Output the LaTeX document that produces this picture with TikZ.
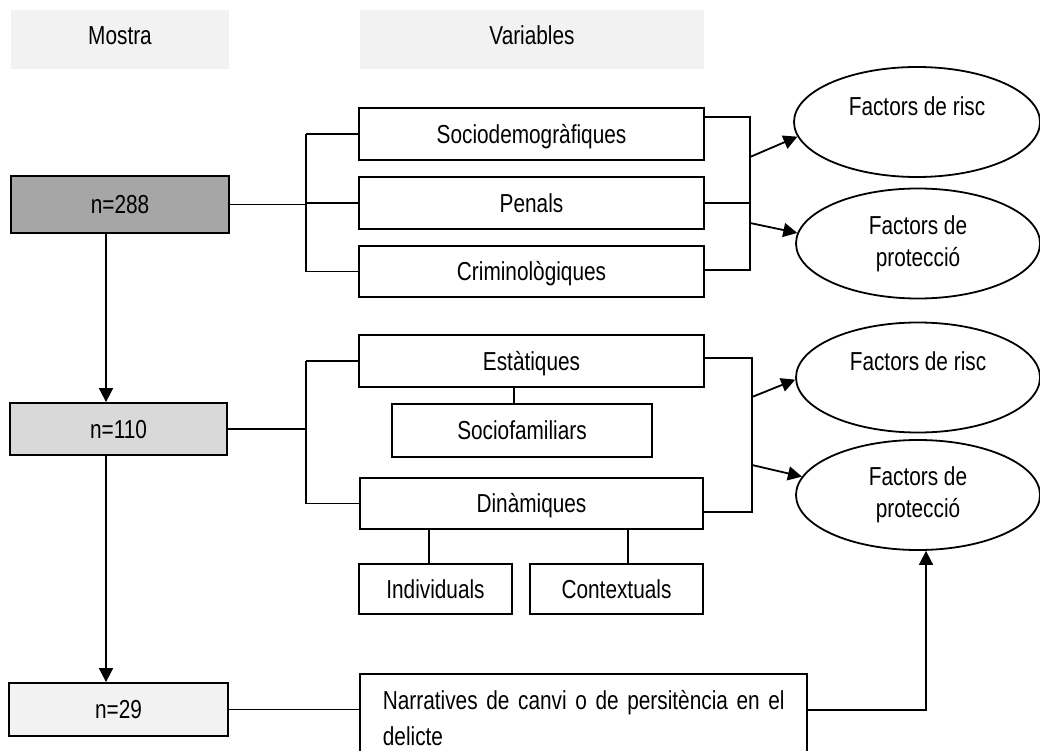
\documentclass[tikz,border=0pt]{standalone}
\usepackage{fontspec}
\setmainfont{Liberation Sans}[FakeStretch=0.8]
\usetikzlibrary{arrows.meta,shapes.geometric}
\definecolor{hdr}{HTML}{F2F2F2}
\definecolor{darkfill}{HTML}{A6A6A6}
\definecolor{midfill}{HTML}{D9D9D9}
\definecolor{lightfill}{HTML}{F2F2F2}
\begin{document}
\begin{tikzpicture}[x=1pt,y=-1pt,
  line width=1.8pt,
  every node/.style={font=\fontsize{26}{32}\selectfont, inner sep=0pt},
  hdrbox/.style={fill=hdr, minimum height=59pt, text height=18.6pt, text depth=8pt},
  box/.style={draw, fill=white, text height=18.6pt, text depth=0pt},
  oval/.style={draw, ellipse, fill=white, minimum width=244pt, minimum height=110pt, align=center},
  arr/.style={-{Triangle[length=14pt,width=14pt]}}
]
\fill[white] (0,0) rectangle (1040,751);
\useasboundingbox (0,0) rectangle (1040,751);

% headers
\node[hdrbox, minimum width=218pt] (hm) at (120,39.5) {Mostra};
\node[hdrbox, minimum width=344pt] (hv) at (532,39.5) {Variables};

% group 1
\node[box, fill=darkfill, minimum width=218pt, minimum height=57pt] (n288) at (120,204.5) {n=288};
\node[box, minimum width=345pt, minimum height=52pt] (socio) at (531.5,134) {Sociodemogràfiques};
\node[box, minimum width=345pt, minimum height=52pt] (pen) at (531.5,203) {Penals};
\node[box, minimum width=345pt, minimum height=51pt] (crim) at (531.5,271.5) {Criminològiques};
\node[oval, minimum width=246pt] (e1) at (917,122) {Factors de risc\\\mbox{}};
\node[oval] (e2) at (918,243.5) {Factors de\\protecció};

% group 2
\node[box, fill=midfill, minimum width=217pt, minimum height=52pt] (n110) at (118.5,429) {n=110};
\node[box, minimum width=345pt, minimum height=52pt] (estat) at (531.5,361) {Estàtiques};
\node[box, minimum width=260pt, minimum height=53pt] (sfam) at (522,430.5) {Sociofamiliars};
\node[box, minimum width=343pt, minimum height=51pt] (dinam) at (531.5,503.5) {Dinàmiques};
\node[box, minimum width=153pt, minimum height=50pt] (indiv) at (435.5,589) {Individuals};
\node[box, minimum width=173pt, minimum height=50pt] (contx) at (616.5,589) {Contextuals};
\node[oval] (e3) at (918,377.5) {Factors de risc\\\mbox{}};
\node[oval] (e4) at (918,495) {Factors de\\protecció};

% group 3
\node[box, fill=lightfill, minimum width=219pt, minimum height=53pt] (n29) at (118.5,709.5) {n=29};
\node[draw, fill=white, anchor=north west, text width=401pt, inner xsep=23pt, inner ysep=16pt,
  align=left, font=\fontsize{26}{36}\selectfont] (narr) at (359,673)
  {\mbox{Narratives de canvi o de persitència en el}\\delicte};

% coordinates
\coordinate (vx) at (106,0);
\coordinate (l1) at (306,0);
\coordinate (r1t) at (750,117);
\coordinate (r1b) at (750,270);
\coordinate (a1) at (750,157);
\coordinate (a2) at (750,223);
\coordinate (s1) at (514,0);
\coordinate (d1) at (429,0);
\coordinate (d2) at (628,0);
\coordinate (r2t) at (752,358);
\coordinate (r2b) at (752,512);
\coordinate (a3) at (752,397);
\coordinate (a4) at (752,465);
\coordinate (c5) at (926,710);

% vertical flow
\draw[arr] (vx |- n288.south) -- (vx |- n110.north);
\draw[arr] (vx |- n110.south) -- (vx |- n29.north);

% group 1 connectors
\draw (n288.east) -- (n288.east -| l1);
\draw (l1 |- socio.west) -- (l1 |- crim.west);
\draw (l1 |- socio.west) -- (socio.west);
\draw (l1 |- pen.west) -- (pen.west);
\draw (l1 |- crim.west) -- (crim.west);
\draw (r1t -| socio.east) -- (r1t) -- (r1b) -- (r1b -| crim.east);
\draw (pen.east) -- (pen.east -| r1t);
\draw[arr] (a1) -- (e1.187);
\draw[arr] (a2) -- (e2.175);

% group 2 connectors
\draw (n110.east) -- (n110.east -| l1);
\draw (l1 |- estat.west) -- (l1 |- dinam.west);
\draw (l1 |- estat.west) -- (estat.west);
\draw (l1 |- dinam.west) -- (dinam.west);
\draw (s1 |- estat.south) -- (s1 |- sfam.north);
\draw (d1 |- dinam.south) -- (d1 |- indiv.north);
\draw (d2 |- dinam.south) -- (d2 |- contx.north);
\draw (r2t -| estat.east) -- (r2t) -- (r2b) -- (r2b -| dinam.east);
\draw[arr] (a3) -- (e3.181);
\draw[arr] (a4) -- (e4.171);

% group 3 connectors
\draw (n29.east) -- (n29.east -| narr.west);
\draw[arr] (c5 -| narr.east) -- (c5) -- (c5 |- e4.south);
\end{tikzpicture}
\end{document}
